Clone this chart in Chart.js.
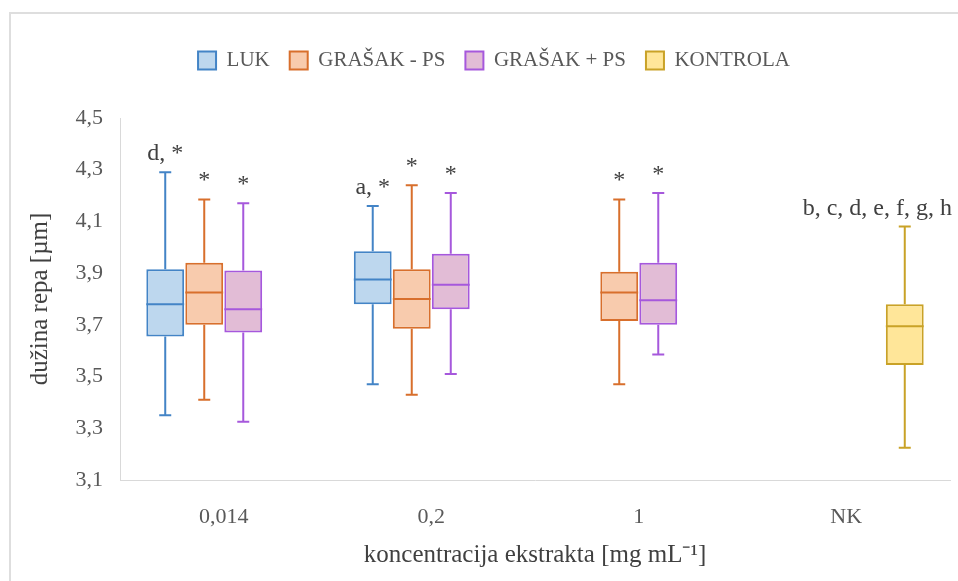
<!DOCTYPE html>
<html>
<head>
<meta charset="utf-8">
<script src="https://cdn.jsdelivr.net/npm/chart.js@4.4.1/dist/chart.umd.min.js"></script>
<style>
  html, body { margin: 0; padding: 0; background: #fff; }
  #frame {
    position: absolute; left: 9px; top: 12px; width: 1000px; height: 600px;
    border-left: 2px solid #dedede; border-top: 2px solid #dedede;
  }
  #wrap { position: absolute; left: 0; top: 0; width: 958px; height: 581px; }
</style>
</head>
<body>
<div id="frame"></div>
<div id="wrap"><canvas id="chart"></canvas></div>
<script>
const categories = ['0,014', '0,2', '1', 'NK'];
const seriesNames = ['LUK', 'GRAŠAK - PS', 'GRAŠAK + PS', 'KONTROLA'];
const yTicks = [3.1, 3.3, 3.5, 3.7, 3.9, 4.1, 4.3, 4.5];

// each box: [min, q1, median, q3, max]
const lukBoxes = [[3.35, 3.655, 3.78, 3.915, 4.29], [3.47, 3.78, 3.875, 3.985, 4.16], null, null];
const grasakMinusBoxes = [[3.41, 3.70, 3.825, 3.94, 4.185], [3.43, 3.685, 3.80, 3.915, 4.24], [3.47, 3.715, 3.825, 3.905, 4.185], null];
const grasakPlusBoxes = [[3.325, 3.67, 3.76, 3.91, 4.17], [3.51, 3.76, 3.855, 3.975, 4.21], [3.585, 3.70, 3.795, 3.94, 4.21], null];
const kontrolaBoxes = [null, null, null, [3.225, 3.545, 3.695, 3.78, 4.08]];

// significance letters above the whiskers
const lukNotes = ['d, *', 'a, *', '', ''];
const grasakMinusNotes = ['*', '*', '*', ''];
const grasakPlusNotes = ['*', '*', '*', ''];
const kontrolaNotes = ['', '', '', 'b, c, d, e, f, g, h'];

const fills = ['#bdd7ee', '#f8cbad', '#e2bcd6', '#ffe699'];
const strokes = ['#4384c6', '#d86f2c', '#a658dc', '#c9a227'];

const allBoxes = [lukBoxes, grasakMinusBoxes, grasakPlusBoxes, kontrolaBoxes];
const allNotes = [lukNotes, grasakMinusNotes, grasakPlusNotes, kontrolaNotes];

const serif = "'Liberation Serif', 'Times New Roman', serif";

const boxPlotPlugin = {
    id: 'boxPlot',
    afterDatasetsDraw(chart) {
        const ctx = chart.ctx;
        const y = chart.scales.y;
        ctx.save();
        chart.data.datasets.forEach((ds, di) => {
            const meta = chart.getDatasetMeta(di);
            meta.data.forEach((bar, i) => {
                const b = allBoxes[di][i];
                if (!b) return;
                const half = bar.width / 2;
                const cap = 6;
                ctx.strokeStyle = strokes[di];
                ctx.lineWidth = 2;
                ctx.beginPath();
                // median
                ctx.moveTo(bar.x - half, y.getPixelForValue(b[2]));
                ctx.lineTo(bar.x + half, y.getPixelForValue(b[2]));
                // whiskers + caps
                ctx.moveTo(bar.x, y.getPixelForValue(b[3]));
                ctx.lineTo(bar.x, y.getPixelForValue(b[4]));
                ctx.moveTo(bar.x, y.getPixelForValue(b[1]));
                ctx.lineTo(bar.x, y.getPixelForValue(b[0]));
                ctx.moveTo(bar.x - cap, y.getPixelForValue(b[4]));
                ctx.lineTo(bar.x + cap, y.getPixelForValue(b[4]));
                ctx.moveTo(bar.x - cap, y.getPixelForValue(b[0]));
                ctx.lineTo(bar.x + cap, y.getPixelForValue(b[0]));
                ctx.stroke();

                const note = allNotes[di][i];
                if (note) {
                    ctx.font = '24px ' + serif;
                    ctx.fillStyle = '#404040';
                    ctx.textAlign = 'center';
                    ctx.textBaseline = 'alphabetic';
                    let tx = bar.x;
                    const w = ctx.measureText(note).width;
                    if (tx + w / 2 > chart.width - 6) tx = chart.width - 6 - w / 2;
                    ctx.fillText(note, tx, y.getPixelForValue(b[4]) - 12);
                }
            });
        });
        ctx.restore();
    }
};

new Chart(document.getElementById('chart'), {
    type: 'bar',
    data: {
        labels: categories,
        datasets: seriesNames.map((name, di) => ({
            label: name,
            data: allBoxes[di].map(b => b ? [b[1], b[3]] : null),
            backgroundColor: fills[di],
            borderColor: strokes[di],
            borderWidth: 2,
            borderSkipped: false,
            categoryPercentage: 0.752,
            barPercentage: 0.97
        }))
    },
    options: {
        responsive: true,
        maintainAspectRatio: false,
        animation: false,
        layout: { padding: { left: 38, right: 8, top: 30, bottom: 0 } },
        plugins: {
            legend: {
                position: 'top',
                labels: {
                    boxWidth: 18,
                    boxHeight: 18,
                    padding: 20,
                    color: '#595959',
                    font: { family: serif, size: 21 }
                }
            },
            // empty spacer between legend and plot
            subtitle: {
                display: true,
                text: '',
                weight: 500,
                font: { size: 10, lineHeight: 1 },
                padding: { top: 0, bottom: 27 }
            },
            tooltip: { enabled: false }
        },
        scales: {
            x: {
                grid: { display: true, drawOnChartArea: false, drawTicks: false },
                border: { display: true, color: '#d9d9d9', width: 1 },
                ticks: { color: '#595959', font: { family: serif, size: 22 }, padding: 24 },
                title: {
                    display: true,
                    text: 'koncentracija ekstrakta [mg mL⁻¹]',
                    color: '#404040',
                    font: { family: serif, size: 25 },
                    padding: { top: 0, bottom: 11 }
                },
                afterFit(scale) { scale.height = 101; }
            },
            y: {
                min: 3.1,
                max: 4.5,
                afterBuildTicks(scale) { scale.ticks = yTicks.map(v => ({ value: v })); },
                grid: { display: true, drawOnChartArea: false, drawTicks: false },
                border: { display: true, color: '#d9d9d9', width: 1 },
                ticks: {
                    color: '#595959',
                    font: { family: serif, size: 22 },
                    padding: 17,
                    callback: v => v.toFixed(1).replace('.', ',')
                },
                title: {
                    display: true,
                    text: 'dužina repa [µm]',
                    color: '#404040',
                    font: { family: serif, size: 25 },
                    padding: { top: -13, bottom: 0 }
                },
                afterFit(scale) { scale.width = 82; }
            }
        }
    },
    plugins: [boxPlotPlugin]
});
</script>
</body>
</html>
